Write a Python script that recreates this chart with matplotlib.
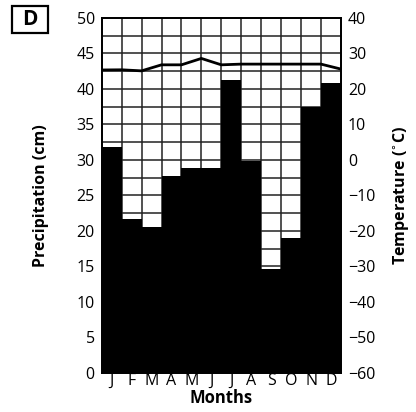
import matplotlib.pyplot as plt
import numpy as np
from matplotlib.patches import Rectangle

plt.rcParams['font.family'] = ['Open Sans', 'DejaVu Sans']

months = ['J', 'F', 'M', 'A', 'M', 'J', 'J', 'A', 'S', 'O', 'N', 'D']
precip = [31.8, 21.7, 20.6, 27.7, 28.8, 28.8, 41.3, 29.8, 14.7, 19.0, 37.5, 40.9]
# temperature read at the month boundaries (start of J ... end of D)
temp_edges = [25.35, 25.4, 25.1, 26.8, 26.8, 28.6, 26.8, 27.0, 27.0, 27.0, 27.0, 27.0, 25.6]

fig = plt.figure(figsize=(4.16, 4.12), dpi=100)
ax = fig.add_axes([0.2445, 0.0947, 0.575, 0.8617])

x = np.arange(len(months))
ax.set_xlim(0, 12)
ax.set_ylim(0, 50)

# grid of boxes behind the bars
for yy in np.arange(2.5, 50, 2.5):
    ax.axhline(yy, color='#222222', lw=1.1, zorder=1)
for xx in range(1, 12):
    ax.axvline(xx, color='#222222', lw=1.1, zorder=1)

ax.bar(x + 0.5, precip, width=1.0, color='black', edgecolor='none', zorder=2)

ax.set_yticks(np.arange(0, 51, 5))
ax.set_xticks(x + 0.5)
ax.set_xticklabels(months, fontsize=11.5)
ax.tick_params(axis='both', length=0, labelsize=11.5, pad=5)
ax.tick_params(axis='x', pad=0)
for s in ax.spines.values():
    s.set_linewidth(1.3)
    s.set_zorder(5)

ax.set_ylabel('Precipitation (cm)', fontsize=11.5, fontweight='bold', labelpad=20)
ax.set_xlabel('Months', fontsize=12, fontweight='bold', labelpad=0)

ax2 = ax.twinx()
ax2.set_ylim(-60, 40)
ax2.set_yticks(np.arange(-60, 41, 10))
ax2.tick_params(axis='y', length=0, labelsize=11.5, pad=5)
ax2.plot(np.arange(13), temp_edges, color='black', lw=2.0, solid_capstyle='round',
         solid_joinstyle='round', zorder=4)
ax2.set_xlim(0, 12)
ax2.set_ylabel('Temperature ($^{\\circ}$C)', fontsize=11.5, fontweight='bold', labelpad=11)
for s in ax2.spines.values():
    s.set_linewidth(1.3)

# panel letter in a box
fig.patches.append(Rectangle((12 / 416, 1 - 33 / 412), 36 / 416, 27 / 412,
                             transform=fig.transFigure, fill=False, lw=1.6, color='black'))
fig.text(30 / 416, 1 - 19.5 / 412, 'D', ha='center', va='center', fontsize=15, fontweight='bold')

fig.savefig('out.png', dpi=100)
